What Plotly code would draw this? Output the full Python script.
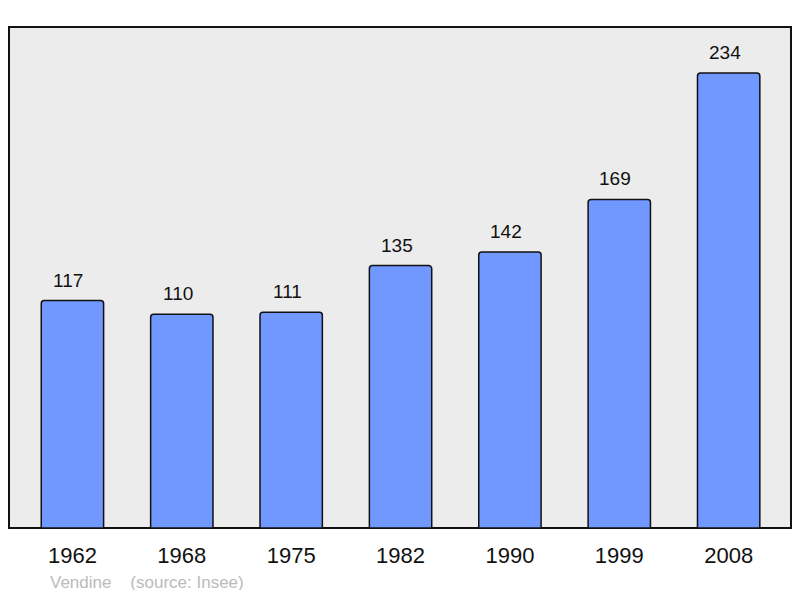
import plotly.graph_objects as go

years = ["1962", "1968", "1975", "1982", "1990", "1999", "2008"]
population = [117, 110, 111, 135, 142, 169, 234]
commune = "Vendine"
source = "(source: Insee)"

fig = go.Figure()

fig.add_trace(
    go.Bar(
        x=years,
        y=population,
        width=0.57,
        marker=dict(color="#7098ff", line=dict(color="#111111", width=1.5), cornerradius=3),
        hoverinfo="skip",
    )
)

# value labels above the bars (x by category index)
for i, v in enumerate(population):
    fig.add_annotation(
        x=i, y=v, text=str(v), showarrow=False,
        yanchor="bottom", yshift=8, xshift=-4,
        font=dict(size=19, color="#111111"),
    )

# framed grey plot area
fig.add_shape(
    type="rect", xref="paper", yref="paper", x0=0, x1=1, y0=0, y1=1,
    line=dict(color="#111111", width=2), fillcolor="#ececec", layer="below",
)

fig.add_annotation(
    xref="paper", yref="paper", x=0.05, y=-0.085, xanchor="left", yanchor="top",
    text=commune + "&nbsp;&nbsp;&nbsp;&nbsp;" + source, showarrow=False,
    font=dict(size=17, color="#bbbbbb"),
)

fig.update_layout(
    width=784,
    height=582,
    margin=dict(l=1, r=1, t=19, b=62),
    paper_bgcolor="white",
    plot_bgcolor="rgba(0,0,0,0)",
    font=dict(family="Liberation Sans, Arial, sans-serif"),
    showlegend=False,
    xaxis=dict(
        type="category", range=[-0.58, 6.57], showgrid=False, zeroline=False, showline=False,
        ticks="", ticklabelstandoff=12, tickfont=dict(size=22, color="#111111"),
    ),
    yaxis=dict(range=[0, 257.7], visible=False),
)

fig.write_html("out.html")
